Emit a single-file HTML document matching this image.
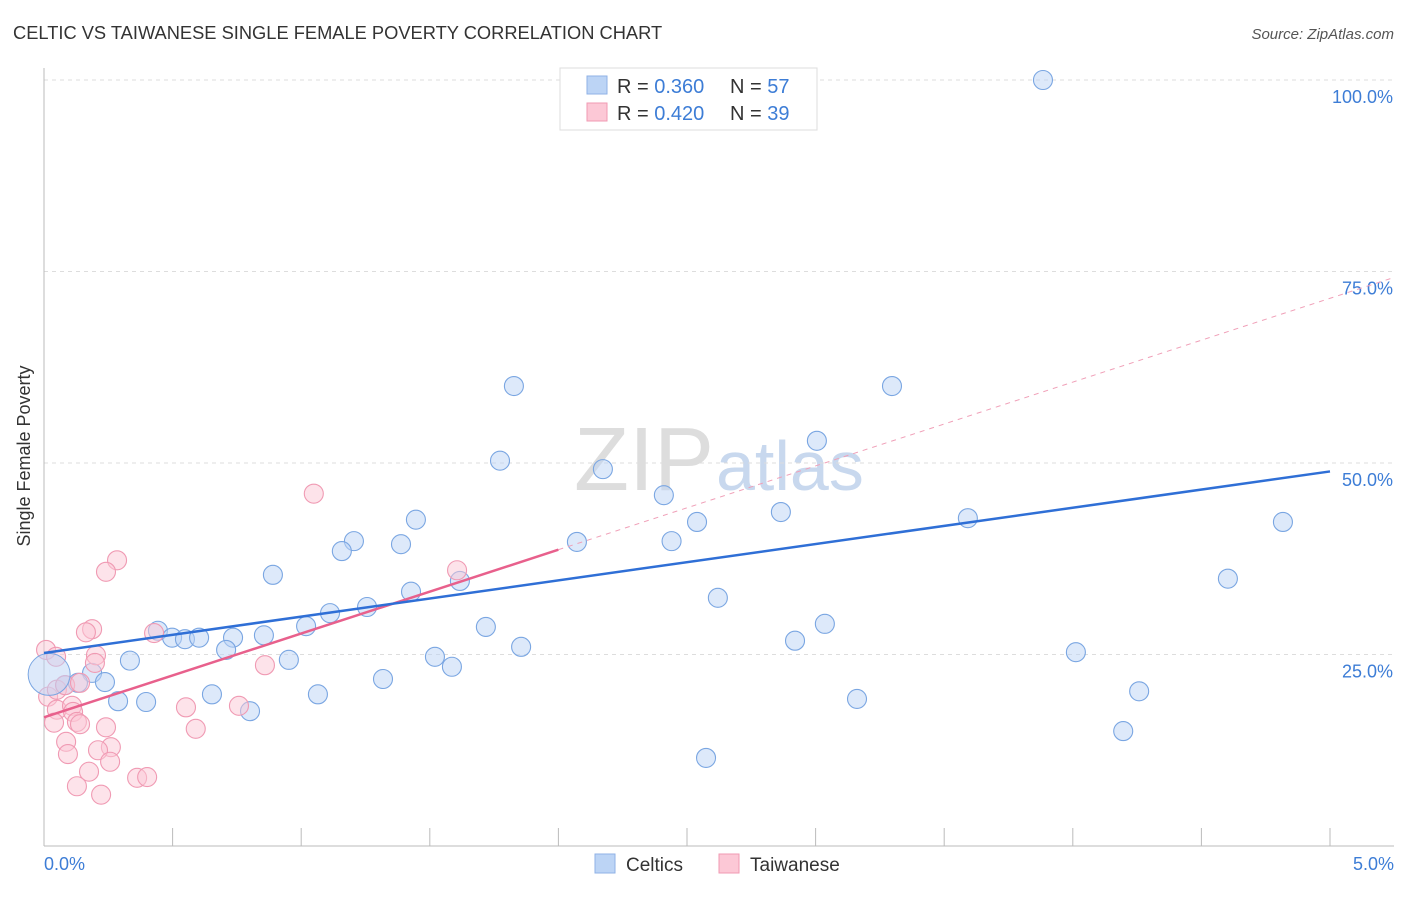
<!DOCTYPE html>
<html><head><meta charset="utf-8"><style>
body{margin:0;background:#fff;font-family:"Liberation Sans",sans-serif;}
svg text{font-family:"Liberation Sans",sans-serif;}
</style></head><body>
<svg id="c" width="1406" height="892">
<text x="13" y="39" font-size="18.3" fill="#333">CELTIC VS TAIWANESE SINGLE FEMALE POVERTY CORRELATION CHART</text>
<text x="1394" y="39" font-size="15" fill="#555" font-style="italic" text-anchor="end">Source: ZipAtlas.com</text>
<text x="30" y="456" font-size="18" fill="#333" transform="rotate(-90 30 456)" text-anchor="middle">Single Female Poverty</text>
<text x="714" y="490" font-size="90" fill="#ddd" text-anchor="end" font-family="Liberation Serif">ZIP</text>
<text x="716" y="490" font-size="70" fill="#c8d8ee">atlas</text>
<g id="grid"></g><g id="marks"></g>
<text x="44" y="870" font-size="18" fill="#3d7dd6">0.0%</text>
<text x="1394" y="870" font-size="18" fill="#3d7dd6" text-anchor="end">5.0%</text>
<g>
<rect x="560" y="68" width="257" height="62" fill="#fff" stroke="#ddd"/>
<rect x="587" y="76" width="20" height="18" fill="#bcd4f5" stroke="#8fb2e6"/>
<rect x="587" y="103" width="20" height="18" fill="#fcc8d6" stroke="#f09ab3"/>
<text x="617" y="93" font-size="20" fill="#333">R = <tspan fill="#3d7dd6">0.360</tspan></text>
<text x="730" y="93" font-size="20" fill="#333">N = <tspan fill="#3d7dd6">57</tspan></text>
<text x="617" y="120" font-size="20" fill="#333">R = <tspan fill="#3d7dd6">0.420</tspan></text>
<text x="730" y="120" font-size="20" fill="#333">N = <tspan fill="#3d7dd6">39</tspan></text>
</g>
<g>
<rect x="595" y="854" width="20" height="19" fill="#bcd4f5" stroke="#8fb2e6"/>
<text x="626" y="871" font-size="19" fill="#333">Celtics</text>
<rect x="719" y="854" width="20" height="19" fill="#fcc8d6" stroke="#f09ab3"/>
<text x="750" y="871" font-size="19" fill="#333">Taiwanese</text>
</g>
</svg>
<script>
const yTicks=[25,50,75,100];
const yTickLabels=["25.0%","50.0%","75.0%","100.0%"];
const xTicks=[0,0.5,1,1.5,2,2.5,3,3.5,4,4.5,5];
const celticsX=[2.352,3.884,1.827,3.297,1.773,3.005,2.173,2.41,1.446,2.539,2.865,3.592,4.817,1.205,1.158,1.388,2.072,2.44,0.89,1.617,1.427,2.62,4.603,1.256,1.112,1.019,1.718,3.036,0.443,0.498,0.548,0.603,0.735,0.855,0.708,1.855,2.92,0.334,0.952,1.52,1.586,4.012,0.187,0.237,0.082,0.132,0.288,0.397,0.653,1.065,1.318,0.801,3.161,4.258,4.196,2.574];
const celticsY=[100,100,60.05,60.05,50.3,52.9,49.2,45.8,42.6,42.3,43.6,42.8,42.3,39.8,38.5,39.4,39.7,39.8,35.4,34.6,33.2,32.4,34.9,31.2,30.4,28.7,28.6,29,28.1,27.2,27.0,27.2,27.2,27.5,25.6,26,26.8,24.2,24.3,24.7,23.4,25.3,22.6,21.4,21,21.3,18.9,18.8,19.8,19.8,21.8,17.6,19.2,20.2,15,11.5];
const taiwanX=[0.284,0.241,1.049,1.606,0.187,0.163,0.428,0.008,0.047,0.202,0.198,0.859,0.016,0.05,0.082,0.14,0.05,0.109,0.113,0.039,0.128,0.14,0.552,0.758,0.59,0.241,0.086,0.093,0.26,0.21,0.257,0.175,0.128,0.222,0.362,0.401];
const taiwanY=[37.3,35.8,46,36,28.3,27.9,27.8,25.6,24.7,24.9,23.9,23.6,19.5,20.4,21,21.3,17.8,18.3,17.5,16.1,16.2,15.9,18.1,18.3,15.3,15.5,13.6,12.0,12.9,12.5,11.0,9.7,7.8,6.7,8.9,9];
const celticsTrend=[25.2,48.9];
const taiwanTrend=[16.8,71.5];
const taiwanSolidEnd=2.0;
const X=v=>44+v*257.2, Y=v=>846-v*7.66;
const NS="http://www.w3.org/2000/svg";
function mk(t,a,p){const e=document.createElementNS(NS,t);for(const k in a)e.setAttribute(k,a[k]);p.appendChild(e);return e;}
const g=document.getElementById('grid'), m=document.getElementById('marks');
yTicks.forEach((t,i)=>{
 const l=mk('line',{x1:44,x2:1394,y1:Y(t),y2:Y(t),stroke:'#ddd','stroke-dasharray':'4,4'},g);
 
 
 const tx=mk('text',{x:1393,y:Y(t)+23,'font-size':18,fill:'#3d7dd6','text-anchor':'end'},g);
 tx.textContent=yTickLabels[i];
 
 
});
const ax=mk('line',{x1:44,x2:1394,y1:846,y2:846,stroke:'#bbb'},g);


const ay=mk('line',{x1:44,x2:44,y1:68,y2:846,stroke:'#bbb'},g);


xTicks.forEach(t=>{
 const l=mk('line',{x1:X(t),x2:X(t),y1:828,y2:846,stroke:'#bbb'},g);
 
 
});
function pts(xs,ys,fill,stroke,name){
 xs.forEach((x,i)=>{
  const c=mk('circle',{cx:X(x),cy:Y(ys[i]),r:9.5,fill:fill,'fill-opacity':0.5,stroke:stroke,'stroke-width':1.1},m);
  
  
 });
}
pts(celticsX,celticsY,'#bcd4f5','#7aa6e2','celtics-point');
pts(taiwanX,taiwanY,'#fcc8d6','#f09ab3','taiwanese-point');
const big=mk('circle',{cx:X(0.02),cy:Y(22.4),r:21,fill:'#bcd4f5','fill-opacity':0.5,stroke:'#7aa6e2'},m);


const tf=v=>taiwanTrend[0]+(taiwanTrend[1]-taiwanTrend[0])*v/5;
const pd=mk('line',{x1:X(taiwanSolidEnd),y1:Y(tf(taiwanSolidEnd)),x2:X(5.25),y2:Y(tf(5.25)),stroke:'#f0a0b8','stroke-width':1,'stroke-dasharray':'5,5'},m);


const ps=mk('line',{x1:X(0),y1:Y(tf(0)),x2:X(taiwanSolidEnd),y2:Y(tf(taiwanSolidEnd)),stroke:'#e8608c','stroke-width':2.5},m);


const bl=mk('line',{x1:X(0),y1:Y(celticsTrend[0]),x2:X(5),y2:Y(celticsTrend[1]),stroke:'#2f6fd6','stroke-width':2.5},m);


</script>
</body></html>
